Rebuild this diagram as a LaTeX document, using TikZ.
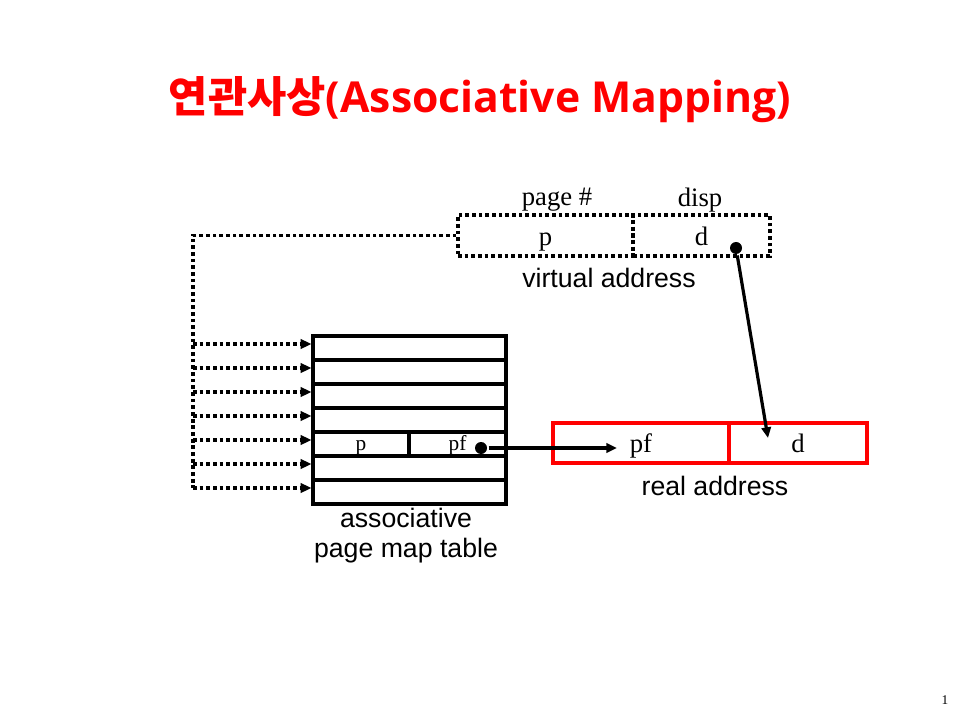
\documentclass[tikz,border=0pt]{standalone}
\usepackage{fontspec}
\setmainfont{Liberation Serif}
\setsansfont{Liberation Sans}
\newfontfamily\cjk{Noto Sans CJK KR}
\newfontfamily\titlefont{Open Sans}
\usetikzlibrary{arrows.meta}
\usetikzlibrary{calc}
\definecolor{red1}{RGB}{255, 0, 0}

\begin{document}
\begin{tikzpicture}[x=0.75pt, y=-0.75pt, line width=2.4pt]
  \useasboundingbox (0,0) rectangle (960,720);
  \tikzset{
    cell/.style={draw, line width=2.4pt, inner sep=0pt, minimum height=18pt,
      text height=9pt, text depth=0pt, font=\fontsize{16}{18}\selectfont},
    vcell/.style={cell, dotline, minimum height=30.75pt, text height=14.5pt, font=\fontsize{20}{24}\selectfont},
    rcell/.style={cell, draw=red1, minimum height=30pt, text height=14pt, font=\fontsize{20}{24}\selectfont},
    dotline/.style={line width=2.4pt, dash pattern=on 2.8pt off 2.2pt},
    nametext/.style={font=\sffamily\fontsize{20}{22.5}\selectfont},
    flow/.style={line width=2.4pt, -{Triangle[length=8pt,width=7pt]}},
    blob/.style={circle, fill, inner sep=0pt, minimum size=9pt}
  }

  \node[text=red1, font=\fontsize{32}{38}\selectfont\bfseries] (title) at (480,100)
    {{\cjk 연관사상}{\titlefont (Associative Mapping)}};

  % virtual address
  \node[vcell, minimum width=131.25pt] (vp) at (545.5,235.5) {p};
  \node[vcell, minimum width=102.75pt] (vd) at (701.5,235.5) {d};
  \node[font=\fontsize{20}{24}\selectfont] (pagen) at (557,200) {page \#};
  \node[font=\fontsize{20}{24}\selectfont] (disp) at (700,200) {disp};
  \node[nametext] (vname) at (609,278) {virtual address};

  % associative page map table
  \foreach \i/\y in {1/348,2/372,3/396,4/420,6/468,7/492}
    \node[cell, minimum width=144.75pt] (r\i) at (409.5,\y) {};
  \node[cell, minimum width=72pt] (r5) at (361,444) {p};
  \node[cell, minimum width=72.75pt] (tpf) at (457.5,444) {pf};
  \node[nametext, align=center] (tname) at (406,536) {associative\\page map table};

  \coordinate (bus) at (193,488);
  \draw[dotline] (vp.west) -| (bus);
  \foreach \i in {1,...,7}
    \draw[dotline, flow] ($(bus |- r\i.west)+(0,-4)$) -- ($(r\i.west)+(0,-4)$);

  % real address
  \node[rcell, minimum width=132pt] (rpf) at (641,443) {pf};
  \node[rcell, minimum width=103.5pt] (rd) at (798,443) {d};
  \node[nametext] (rname) at (715,486) {real address};

  \node[blob] (dotpf) at (481,448) {};
  \node[blob] (dotd) at (736,248) {};
  \coordinate (pfin) at ($(rpf.center)+(-24,5)$);
  \coordinate (din) at ($(rd.center)+(-30,-5)$);
  \draw[flow] (dotpf) -- (pfin);
  \draw[flow] (dotd) -- (din);

  \node[font=\fontsize{10}{12}\selectfont] (pnum) at (945,700) {1};
\end{tikzpicture}
\end{document}
